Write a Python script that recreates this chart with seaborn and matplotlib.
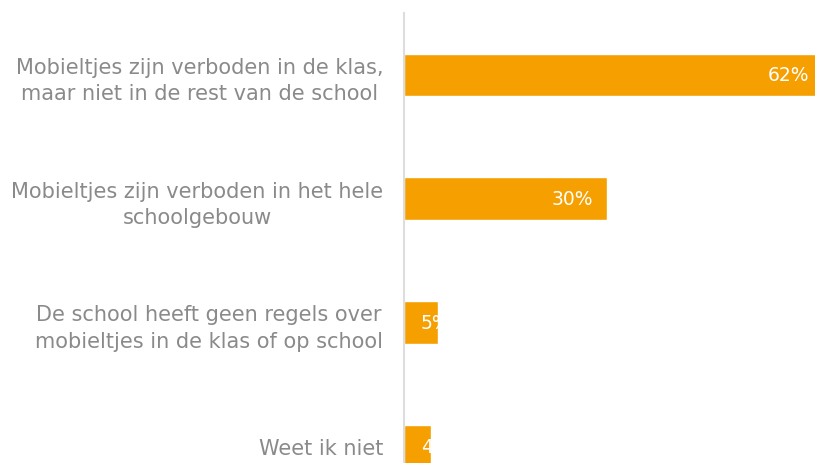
import matplotlib
matplotlib.use("Agg")
import matplotlib.pyplot as plt
import seaborn as sns
import pandas as pd

# ── Data ─────────────────────────────────────────────────────────────────────
categories = [
    "Mobieltjes zijn verboden in de klas,\nmaar niet in de rest van de school",
    "Mobieltjes zijn verboden in het hele\nschoolgebouw",
    "De school heeft geen regels over\nmobieltjes in de klas of op school",
    "Weet ik niet",
]
values = [62, 30, 5, 4]
value_labels = ["62%", "30%", "5%", "4%"]

BAR_COLOR = "#F5A000"
TEXT_GRAY = "#8a8a8a"

sns.set_theme(style="white")
plt.rcParams["font.family"] = ["DejaVu Sans"]

df = pd.DataFrame({"cat": categories, "val": values})

fig = plt.figure(figsize=(8.15, 4.64), dpi=100)
ax = fig.add_axes([404 / 815, 0, 411 / 815, 450 / 464])

sns.barplot(data=df, x="val", y="cat", color=BAR_COLOR, saturation=1,
            width=0.345, ax=ax)

ax.set_xlim(0, 411 / 6.77)
ax.set_ylim(3.137, -0.5)

# value labels: inside the bar end, or pinned near the axis for short bars
px = 6.77
for i, (v, lab) in enumerate(zip(values, value_labels)):
    if v * px > 60:
        ax.text(v - 14 / px, i, lab, ha="right", va="center", color="white",
                fontsize=13.5, clip_on=True)
    else:
        ax.text(17 / px, i, lab, ha="left", va="center", color="white",
                fontsize=13.5, clip_on=True)

ax.set_xlabel("")
ax.set_ylabel("")
ax.set_xticks([])
ax.tick_params(axis="y", length=0, pad=15, labelsize=15, labelcolor=TEXT_GRAY)
for lbl in ax.get_yticklabels():
    lbl.set_linespacing(1.4)
    lbl.set_multialignment("center")
    lbl.set_verticalalignment("center_baseline")

for s in ["top", "right", "bottom"]:
    ax.spines[s].set_visible(False)
ax.spines["left"].set_color("#dddddd")
ax.spines["left"].set_linewidth(1.5)

fig.savefig("out.png", dpi=100)
